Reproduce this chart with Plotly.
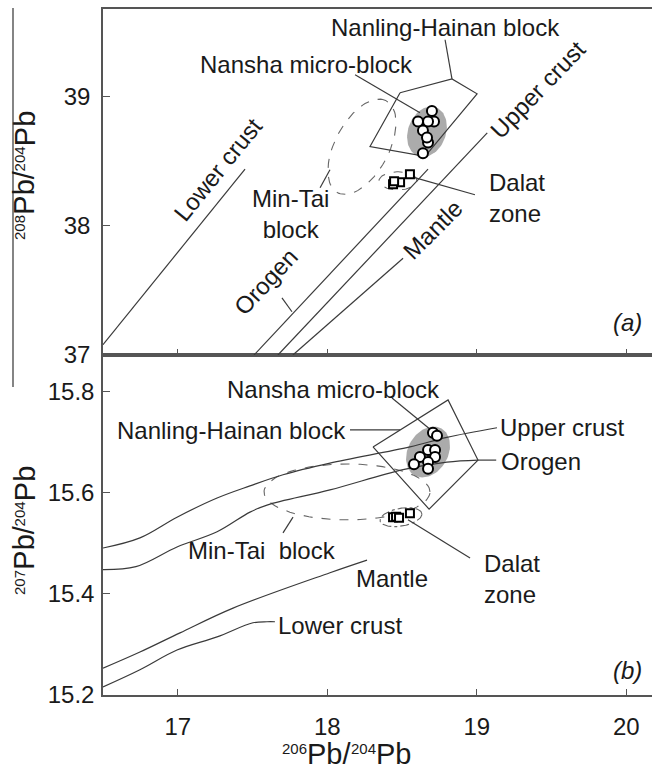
import numpy as np
import plotly.graph_objects as go

# ---------------- data: panel (a) 208Pb/204Pb vs 206Pb/204Pb ----------------
a_lower_crust_x = [16.5, 17.45]
a_lower_crust_y = [37.08, 38.44]
a_orogen_x = [17.51, 18.674]
a_orogen_y = [37.0, 38.44]
a_upper_crust_x = [17.67, 19.07]
a_upper_crust_y = [37.0, 38.72]
a_mantle_x = [17.77, 18.507]
a_mantle_y = [37.0, 37.75]

a_nanling_x = [18.487, 18.834, 19.002, 18.654, 18.286, 18.487]
a_nanling_y = [39.031, 39.138, 39.023, 38.538, 38.615, 39.031]

a_nansha_x = [18.70, 18.714, 18.674, 18.607, 18.64, 18.674, 18.667, 18.64]
a_nansha_y = [38.89, 38.808, 38.808, 38.808, 38.738, 38.646, 38.685, 38.562]
a_dalat_x = [18.553, 18.487, 18.44, 18.447]
a_dalat_y = [38.40, 38.338, 38.323, 38.346]

# field ellipses: centre, two conjugate semi-axis vectors (data units)
a_nansha_field = [(18.667, 38.729), (0.0595, 0.189), (-0.119, 0.050)]
a_mintai_field = [(18.232, 38.613), (0.163, 0.356), (-0.159, 0.098)]
a_dalat_field = [(18.473, 38.349), (0.127, 0.0), (0.0, 0.07)]

# ---------------- data: panel (b) 207Pb/204Pb vs 206Pb/204Pb ----------------
b_upper_crust_x = [16.5, 16.747, 16.995, 17.263, 17.483, 17.704, 18.018, 18.553, 18.80, 19.135]
b_upper_crust_y = [15.491, 15.511, 15.552, 15.59, 15.614, 15.636, 15.659, 15.691, 15.71, 15.729]
b_orogen_x = [16.5, 16.72, 16.995, 17.263, 17.483, 17.597, 18.018, 18.507, 18.80, 19.008]
b_orogen_y = [15.448, 15.454, 15.493, 15.523, 15.562, 15.576, 15.606, 15.646, 15.661, 15.665]
b_mantle_x = [16.5, 16.747, 17.015, 17.37, 18.018, 18.266]
b_mantle_y = [15.253, 15.285, 15.323, 15.372, 15.442, 15.467]
b_lower_crust_x = [16.5, 16.747, 16.995, 17.263, 17.503, 17.597, 17.65]
b_lower_crust_y = [15.216, 15.25, 15.289, 15.315, 15.343, 15.345, 15.345]

b_nanling_x = [18.306, 18.808, 19.008, 18.681, 18.306]
b_nanling_y = [15.691, 15.784, 15.665, 15.568, 15.691]

b_nansha_x = [18.707, 18.734, 18.674, 18.721, 18.62, 18.721, 18.674, 18.58, 18.674]
b_nansha_y = [15.719, 15.713, 15.685, 15.685, 15.671, 15.671, 15.661, 15.657, 15.648]
b_dalat_x = [18.44, 18.46, 18.48, 18.553]
b_dalat_y = [15.552, 15.553, 15.551, 15.56]

b_nansha_field = [(18.674, 15.681), (0.0903, 0.0463), (-0.116, 0.0198)]
b_mintai_field = [(18.132, 15.602), (0.555, 0.0), (0.0, 0.0554)]
b_dalat_field = [(18.493, 15.552), (0.14, 0.006), (0.0, 0.0178)]

x_ticks = [17, 18, 19, 20]
a_y_ticks = [37, 38, 39]
b_y_ticks = [15.2, 15.4, 15.6, 15.8]
b_y_ticktext = ["15.2", "15.4", "15.6", "15.8"]

# axis titles as (superscript mass, element) pairs
x_title = [("206", "Pb/"), ("204", "Pb")]
a_y_title = [("208", "Pb/"), ("204", "Pb")]
b_y_title = [("207", "Pb/"), ("204", "Pb")]

# ---------------- styling / geometry ----------------
FONT = "Liberation Sans, Arial, sans-serif"
LINE = "#3a3a3a"
AXC = "#555555"
LW = 1.2
LBL = 24
W, H = 652, 769
ML, MR, MT, MB = 103, 0, 9, 74
PW, PH = W - ML - MR, H - MT - MB

fig = go.Figure()


def ax_ids(panel):
    return ("x2", "y2") if panel == "a" else ("x", "y")


def add_line(x, y, panel, dash="solid", color=LINE, width=LW, shape="linear"):
    xa, ya = ax_ids(panel)
    fig.add_trace(go.Scatter(x=x, y=y, mode="lines", xaxis=xa, yaxis=ya,
                             line=dict(color=color, width=width, dash=dash, shape=shape),
                             hoverinfo="skip", showlegend=False))


def ellipse_pts(field, n=90):
    (cx, cy), (ux, uy), (vx, vy) = field
    t = np.linspace(0, 2 * np.pi, n)
    return cx + ux * np.cos(t) + vx * np.sin(t), cy + uy * np.cos(t) + vy * np.sin(t)


def add_fill(field, panel):
    xa, ya = ax_ids(panel)
    ex, ey = ellipse_pts(field)
    fig.add_trace(go.Scatter(x=ex, y=ey, mode="lines", fill="toself",
                             fillcolor="#ababab", line=dict(width=0, color="#ababab"),
                             xaxis=xa, yaxis=ya, hoverinfo="skip", showlegend=False))


def add_dashed(field, panel, dash="dash"):
    ex, ey = ellipse_pts(field)
    add_line(ex, ey, panel, dash=dash, color="#666666", width=1.1)


def add_pts(x, y, panel, symbol, size):
    xa, ya = ax_ids(panel)
    fig.add_trace(go.Scatter(x=x, y=y, mode="markers", xaxis=xa, yaxis=ya,
                             marker=dict(symbol=symbol, size=size, color="white",
                                         line=dict(color="black", width=2)),
                             hoverinfo="skip", showlegend=False))


def label(text, x, y, panel, angle=0, xanchor="center", align="center", size=LBL, italic=False):
    xa, ya = ax_ids(panel)
    fig.add_annotation(text=text, x=x, y=y, xref=xa, yref=ya, showarrow=False,
                       textangle=angle, xanchor=xanchor, yanchor="middle", align=align,
                       font=dict(family=FONT, size=size, color="#1a1a1a",
                                 style="italic" if italic else "normal"))


def px_text(text, px, py, size, angle=0):
    fig.add_annotation(text=text, x=(px - ML) / PW, y=(H - MB - py) / PH,
                       xref="paper", yref="paper", showarrow=False, textangle=angle,
                       xanchor="center", yanchor="middle", borderpad=0, borderwidth=0,
                       font=dict(family=FONT, size=size, color="#1a1a1a"))


# Liberation Sans (Arial metrics) advance widths, em units
ADV = {"0": 0.556, "2": 0.556, "4": 0.556, "6": 0.556, "7": 0.556, "8": 0.556,
       "P": 0.667, "b": 0.556, "/": 0.278}
BIG, SUP = 29, 15


def text_w(s, size):
    return sum(ADV[c] for c in s) * size


def axis_title(parts, start, across, vertical):
    """lay out superscript + element pieces along the title direction (pixels)."""
    pos = start
    cap_top = across - 0.358 * BIG if not vertical else across - 0.358 * BIG
    for sup, el in parts:
        for txt, size in ((sup, SUP), (el, BIG)):
            w = text_w(txt, size)
            mid = pos + w / 2 if not vertical else pos - w / 2
            off = across if size == BIG else cap_top + 0.358 * size
            if vertical:
                px_text(txt, off, mid, size, angle=-90)
                pos -= w
            else:
                px_text(txt, mid, off, size)
                pos += w


# ----- panel (a) -----
add_fill(a_nansha_field, "a")
add_dashed(a_mintai_field, "a")
add_dashed(a_dalat_field, "a")
add_line(a_lower_crust_x, a_lower_crust_y, "a")
add_line(a_orogen_x, a_orogen_y, "a")
add_line(a_upper_crust_x, a_upper_crust_y, "a")
add_line(a_mantle_x, a_mantle_y, "a")
add_line(a_nanling_x, a_nanling_y, "a")
# leader lines
add_line([18.834, 18.788], [39.139, 39.442], "a")
add_line([18.186, 18.62], [39.17, 38.876], "a")
add_line([17.952, 18.018], [38.295, 38.435], "a")
add_line([18.567, 18.988], [38.38, 38.241], "a")
add_line([17.697, 17.764], [37.443, 37.335], "a")
add_pts(a_nansha_x, a_nansha_y, "a", "circle", 10)
add_pts(a_dalat_x, a_dalat_y, "a", "square", 8)

label("Nanling-Hainan block", 18.788, 39.534, "a")
label("Nansha micro-block", 17.858, 39.248, "a")
label("Min-Tai<br>block", 17.751, 38.094, "a")
label("Dalat<br>zone", 19.069, 38.218, "a", xanchor="left", align="left")
label("Lower crust", 17.269, 38.435, "a", angle=-51)
label("Orogen", 17.59, 37.567, "a", angle=-47)
label("Upper crust", 19.41, 39.054, "a", angle=-46)
label("Mantle", 18.707, 37.97, "a", angle=-45)
label("(a)", 20.005, 37.25, "a", italic=True)

# ----- panel (b) -----
add_fill(b_nansha_field, "b")
add_dashed(b_mintai_field, "b")
add_dashed(b_dalat_field, "b", dash="dashdot")
add_line(b_upper_crust_x, b_upper_crust_y, "b", shape="spline")
add_line(b_orogen_x, b_orogen_y, "b", shape="spline")
add_line(b_mantle_x, b_mantle_y, "b", shape="spline")
add_line(b_lower_crust_x, b_lower_crust_y, "b", shape="spline")
add_line(b_nanling_x, b_nanling_y, "b")
add_line([18.152, 18.487], [15.725, 15.725], "b")
add_line([18.433, 18.70], [15.788, 15.723], "b")
add_line([17.771, 17.704], [15.552, 15.521], "b")
add_line([18.54, 18.955], [15.547, 15.471], "b")
add_line([19.008, 19.13], [15.665, 15.665], "b")
add_pts(b_nansha_x, b_nansha_y, "b", "circle", 10)
add_pts(b_dalat_x, b_dalat_y, "b", "square", 8)

label("Nansha micro-block", 18.045, 15.804, "b")
label("Nanling-Hainan block", 18.14, 15.723, "b", xanchor="right")
label("Upper crust", 19.142, 15.729, "b", xanchor="left")
label("Orogen", 19.149, 15.662, "b", xanchor="left")
label("Min-Tai  block", 17.564, 15.487, "b")
label("Dalat<br>zone", 19.035, 15.43, "b", xanchor="left", align="left")
label("Mantle", 18.433, 15.43, "b")
label("Lower crust", 17.657, 15.337, "b", xanchor="left")
label("(b)", 20.005, 15.249, "b", italic=True)

# ----- axis titles (pixel layout) -----
axis_title(x_title, start=282, across=753.5, vertical=False)
axis_title(a_y_title, start=240, across=24.5, vertical=True)
axis_title(b_y_title, start=595, across=24.5, vertical=True)

# stray vertical rule at far left of the original figure
fig.add_shape(type="line", xref="paper", yref="paper", x0=(13 - ML) / PW, x1=(13 - ML) / PW,
              y0=(H - MB - 387) / PH, y1=(H - MB - 8) / PH, line=dict(color="#333333", width=1.2))

tickfont = dict(family=FONT, size=24, color="#1a1a1a")
common_x = dict(range=[16.5, 20.172], tickvals=x_ticks, ticks="inside", ticklen=6,
                tickcolor=AXC, showline=True, linecolor=AXC, linewidth=1.5, mirror=True,
                showgrid=False, zeroline=False, tickfont=tickfont)
common_y = dict(ticks="inside", ticklen=7, tickcolor=AXC, showline=True, linecolor=AXC,
                linewidth=1.5, mirror=False, showgrid=False, zeroline=False, tickfont=tickfont)

fig.update_layout(
    width=W, height=H,
    margin=dict(l=ML, r=MR, t=MT, b=MB),
    plot_bgcolor="white", paper_bgcolor="white",
    showlegend=False,
    xaxis=dict(common_x, anchor="y", ticklabelstandoff=9),
    xaxis2=dict(common_x, anchor="y2", matches="x", showticklabels=False),
    yaxis=dict(common_y, domain=[0, 0.4956], range=[15.2, 15.873], tickvals=b_y_ticks,
               ticktext=b_y_ticktext, anchor="x", ticklabelstandoff=2),
    yaxis2=dict(common_y, domain=[0.4956, 1], range=[37.0, 39.68], tickvals=a_y_ticks,
                anchor="x2", ticklabelstandoff=6),
)

fig.write_html("out.html", config={"displayModeBar": False},
               post_script="document.body.style.margin='0px';")
